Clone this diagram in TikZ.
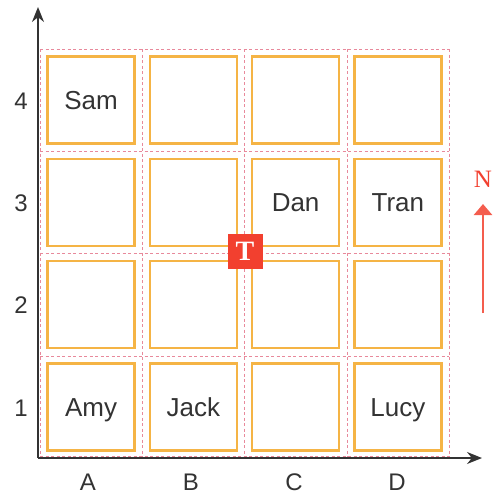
\documentclass[tikz,border=0pt]{standalone}
\usepackage{fontspec}
\setmainfont{Liberation Sans}
\newfontfamily\slabfont{Liberation Serif}
\usetikzlibrary{arrows.meta, positioning}
\definecolor{boxorange}{HTML}{F5B445}
\definecolor{gridpink}{HTML}{E8899B}
\definecolor{markred}{HTML}{F2402F}
\definecolor{inkgray}{HTML}{333333}
\tikzstyle{seat} = [draw=boxorange, line width=2.4pt, minimum width=87pt, minimum height=87pt, inner sep=0pt, outer sep=0pt, text height=18.6pt, text depth=0pt, text=inkgray, font=\fontsize{26}{28}\selectfont]
\tikzstyle{gridline} = [gridpink, line width=0.8pt, dash pattern=on 3pt off 2.5pt]
\tikzstyle{axis} = [inkgray, line width=1.8pt, -{Stealth[length=15pt, width=12pt]}]
\tikzstyle{tick} = [text=inkgray, text height=17pt, text depth=0pt, font=\fontsize{24}{26}\selectfont]
\tikzstyle{marker} = [fill=markred, minimum size=35pt, inner sep=0pt, text=white, font=\slabfont\bfseries\fontsize{28}{28}\selectfont]

\begin{document}
\begin{tikzpicture}[x=1pt, y=-1pt, node distance=15.3pt]
    \useasboundingbox (0,0) rectangle (501,496);

    % Seats
    \node (a4) [seat] at (91,100) {Sam};
    \node (b4) [seat, right=of a4] {};
    \node (c4) [seat, right=of b4] {};
    \node (d4) [seat, right=of c4] {};
    \node (a3) [seat, below=of a4] {};
    \node (b3) [seat, right=of a3] {};
    \node (c3) [seat, right=of b3] {Dan};
    \node (d3) [seat, right=of c3] {Tran};
    \node (a2) [seat, below=of a3] {};
    \node (b2) [seat, right=of a2] {};
    \node (c2) [seat, right=of b2] {};
    \node (d2) [seat, right=of c2] {};
    \node (a1) [seat, below=of a2] {Amy};
    \node (b1) [seat, right=of a1] {Jack};
    \node (c1) [seat, right=of b1] {};
    \node (d1) [seat, right=of c1] {Lucy};

    % Dashed grid
    \draw [gridline] (40,49) -- (40,458);
    \draw [gridline] (142.3,49) -- (142.3,458);
    \draw [gridline] (244.6,49) -- (244.6,458);
    \draw [gridline] (346.9,49) -- (346.9,458);
    \draw [gridline] (449.2,49) -- (449.2,458);
    \draw [gridline] (40,49) -- (449.2,49);
    \draw [gridline] (40,151.3) -- (449.2,151.3);
    \draw [gridline] (40,253.6) -- (449.2,253.6);
    \draw [gridline] (40,355.9) -- (449.2,355.9);
    \draw [gridline] (40,456.5) -- (449.2,456.5);

    % Axes
    \coordinate (origin) at (38,458);
    \coordinate (ytip) at (38,7);
    \coordinate (xtip) at (482,458);
    \draw [axis] (origin) -- (ytip);
    \draw [axis] (origin) -- (xtip);

    % Row and column labels
    \node (r4) [tick] at (21,101) {4};
    \node (r3) [tick] at (21,203) {3};
    \node (r2) [tick] at (21,305) {2};
    \node (r1) [tick] at (21,408) {1};
    \node (ca) [tick] at (88,482) {A};
    \node (cb) [tick] at (191,482) {B};
    \node (cc) [tick] at (294,482) {C};
    \node (cd) [tick] at (397,482) {D};

    % Marker and north arrow
    \node (mark) [marker] at (245,251) {T};
    \node (north) [text=markred, font=\slabfont\fontsize{25}{25}\selectfont] at (483,179) {N};
    \coordinate (nbase) at (483,313);
    \draw [draw=markred!85!white, line width=2.6pt, -{Triangle[length=11pt, width=18pt]}] (nbase) -- (north.south |- 0,204);
\end{tikzpicture}
\end{document}
